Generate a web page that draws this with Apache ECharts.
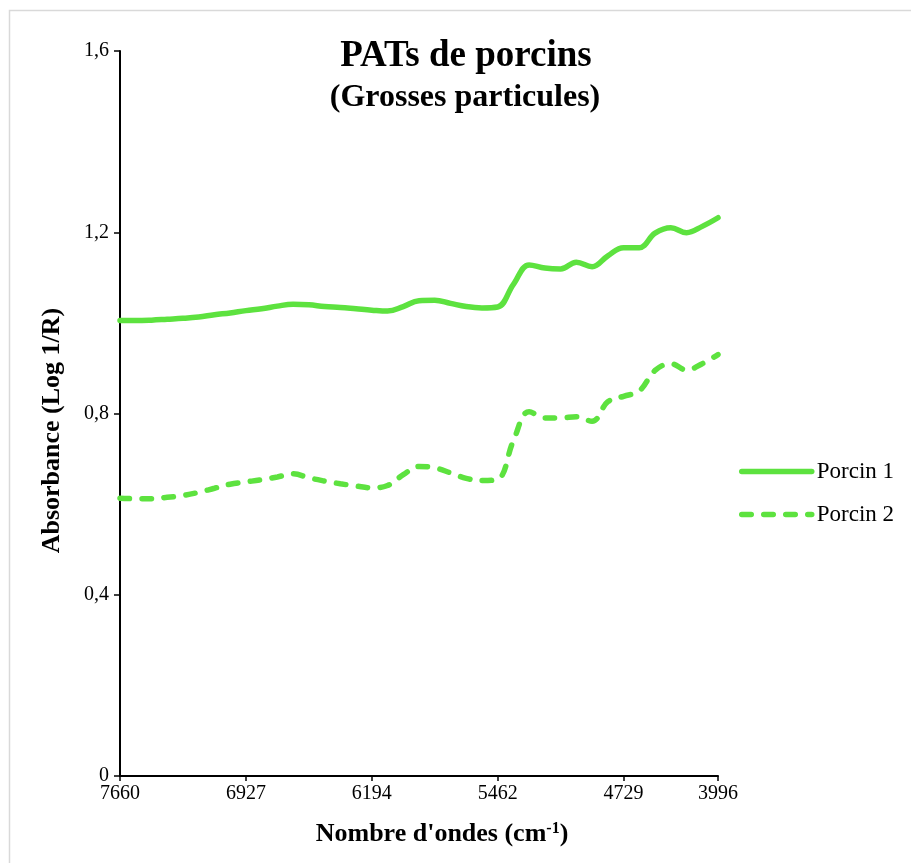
<!DOCTYPE html>
<html>
<head>
<meta charset="utf-8">
<script src="https://cdn.jsdelivr.net/npm/echarts@6/dist/echarts.min.js"></script>
<style>
  html, body { margin: 0; padding: 0; background: #fff; }
  #main { width: 911px; height: 863px; }
</style>
</head>
<body>
<div id="main"></div>
<script>
// nombres d'ondes (cm-1) de chaque point, axe de catégories
var waveNumbers = [
  '7660', '7568', '7477', '7385', '7293', '7202', '7110', '7019', '6927',
  '6835', '6744', '6652', '6561', '6469', '6377', '6286', '6194',
  '6102', '6011', '5919', '5828', '5736', '5645', '5553', '5462',
  '5370', '5278', '5187', '5095', '5004', '4912', '4821', '4729',
  '4607', '4485', '4362', '4240', '4118', '3996'
];
// étiquettes affichées sur l'axe x
var tickLabels = ['7660', '6927', '6194', '5462', '4729', '3996'];

var porcin1 = [
  1.005, 1.005, 1.006, 1.008, 1.010, 1.013, 1.018, 1.022, 1.027,
  1.031, 1.037, 1.041, 1.040, 1.036, 1.034, 1.031, 1.028,
  1.026, 1.036, 1.049, 1.050, 1.043, 1.036, 1.033, 1.035,
  1.085, 1.128, 1.121, 1.119, 1.134, 1.124, 1.148, 1.166,
  1.166, 1.198, 1.210, 1.199, 1.213, 1.232
];
var porcin2 = [
  0.613, 0.612, 0.612, 0.615, 0.619, 0.626, 0.635, 0.644, 0.649,
  0.654, 0.660, 0.667, 0.658, 0.651, 0.645, 0.640, 0.636,
  0.641, 0.665, 0.683, 0.680, 0.669, 0.657, 0.652, 0.655,
  0.740, 0.804, 0.790, 0.790, 0.793, 0.783, 0.826, 0.838,
  0.850, 0.895, 0.910, 0.896, 0.910, 0.930
];

var vert = '#5de23f';
var police = '"Liberation Serif", "Times New Roman", serif';
var tirets = [9.5, 12.5];

var myChart = echarts.init(document.getElementById('main'));

function showTick(index, value) {
  return tickLabels.indexOf(value) >= 0;
}

var option = {
  backgroundColor: '#fff',
  animation: false,
  textStyle: { fontFamily: police },
  title: [
    {
      text: 'PATs de porcins',
      left: 461,
      top: 33,
      textAlign: 'center',
      textStyle: { fontFamily: police, fontSize: 37, fontWeight: 'bold', color: '#000' }
    },
    {
      text: '(Grosses particules)',
      left: 460,
      top: 77,
      textAlign: 'center',
      textStyle: { fontFamily: police, fontSize: 32, fontWeight: 'bold', color: '#000' }
    }
  ],
  graphic: [
    { // cadre gris autour du graphique
      type: 'rect',
      shape: { x: 9.5, y: 10.5, width: 940, height: 900 },
      style: { fill: 'none', stroke: '#d9d9d9', lineWidth: 1.5 },
      silent: true
    }
  ],
  legend: {
    orient: 'vertical',
    left: 739,
    top: 460,
    padding: 0,
    itemWidth: 70,
    itemHeight: 14,
    itemGap: 20,
    itemStyle: { opacity: 0 },
    textStyle: { fontFamily: police, fontSize: 23, color: '#000' },
    data: [
      { name: 'Porcin 1', lineStyle: { width: 5.5, type: 'solid', cap: 'round' } },
      { name: 'Porcin 2', lineStyle: { width: 5.5, type: tirets, cap: 'round' } }
    ]
  },
  grid: {
    left: 120,
    right: 193,
    top: 51,
    bottom: 87,
    containLabel: false
  },
  xAxis: {
    type: 'category',
    boundaryGap: false,
    data: waveNumbers,
    name: "Nombre d'ondes (cm{sup|-1})",
    nameLocation: 'middle',
    nameGap: 45,
    nameTextStyle: {
      fontFamily: police, fontSize: 26, fontWeight: 'bold', color: '#000',
      padding: [0, 0, 0, 46],
      rich: {
        sup: { fontFamily: police, fontSize: 16, fontWeight: 'bold', color: '#000', verticalAlign: 'top', padding: [0, 0, 11, 0] }
      }
    },
    axisLine: { show: true, lineStyle: { color: '#000', width: 2 } },
    axisTick: { show: true, alignWithLabel: true, interval: showTick, length: 5, lineStyle: { color: '#000', width: 1.5 } },
    axisLabel: {
      interval: showTick,
      color: '#000',
      fontFamily: police,
      fontSize: 20,
      margin: 8
    },
    splitLine: { show: false }
  },
  yAxis: {
    type: 'value',
    min: 0,
    max: 1.6,
    interval: 0.4,
    name: 'Absorbance (Log 1/R)',
    nameLocation: 'middle',
    nameGap: 55,
    nameRotate: 90,
    nameTextStyle: {
      fontFamily: police, fontSize: 26, fontWeight: 'bold', color: '#000',
      padding: [0, 34, 0, 0]
    },
    axisLine: { show: true, lineStyle: { color: '#000', width: 2 } },
    axisTick: { show: true, inside: false, length: 6, lineStyle: { color: '#000', width: 1.5 } },
    axisLabel: {
      color: '#000',
      fontFamily: police,
      fontSize: 20,
      margin: 11,
      formatter: function (v) { return String(+v.toFixed(1)).replace('.', ','); }
    },
    splitLine: { show: false }
  },
  series: [
    {
      name: 'Porcin 1',
      type: 'line',
      data: porcin1,
      smooth: 0.4,
      symbol: 'none',
      color: vert,
      lineStyle: { color: vert, width: 5.5, cap: 'round' }
    },
    {
      name: 'Porcin 2',
      type: 'line',
      data: porcin2,
      smooth: 0.4,
      symbol: 'none',
      color: vert,
      lineStyle: { color: vert, width: 5.5, type: tirets, cap: 'round' }
    }
  ]
};

myChart.setOption(option);
</script>
</body>
</html>
